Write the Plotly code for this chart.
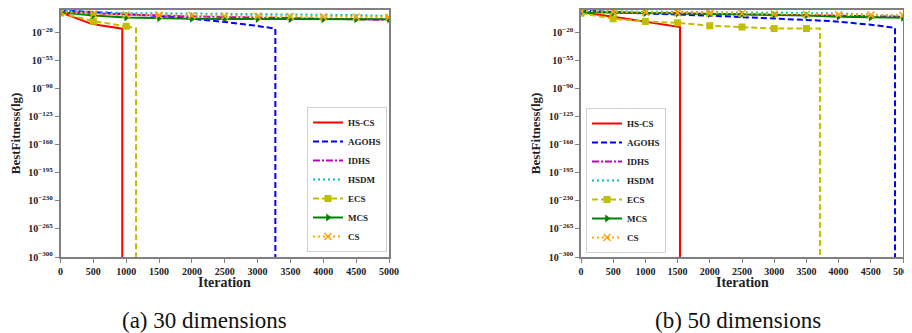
import plotly.graph_objects as go

# ---------------- data (exponents of best fitness, log10) ----------------
# (a) 30 dimensions
a_hscs_it = [0, 450, 600, 940, 940]
a_hscs_lg = [5, -8.75, -11, -15.4, -300]
a_agohs_it = [0, 500, 1000, 1500, 2000, 2500, 3000, 3270, 3270]
a_agohs_lg = [7.5, 5, 3, 0.5, -3, -7, -12, -15.4, -300]
a_idhs_it = [0, 1000, 2000, 3000, 4000, 5000]
a_idhs_lg = [6, 2, 0, -1.5, -3, -4.5]
a_hsdm_it = [0, 1000, 2000, 3000, 4000, 4500, 5000]
a_hsdm_lg = [7, 4, 3.5, 3, 2.5, 1.5, 0.5]
a_ecs_it = [0, 500, 1000]
a_ecs_lg = [4, -6, -12.5]
a_ecs_tail_it = [1000, 1150, 1150]
a_ecs_tail_lg = [-12.5, -15, -300]
a_mcs_it = [0, 500, 1000, 1500, 2000, 2500, 3000, 3500, 4000, 4500, 5000]
a_mcs_lg = [5, 1, -1.5, -2.5, -3, -3.2, -3.4, -3.5, -3.6, -3.7, -3.75]
a_cs_it = [0, 500, 1000, 1500, 2000, 2500, 3000, 3500, 4000, 4500, 5000]
a_cs_lg = [6, 3, 2, 1.5, 1, 0.5, 0, -0.3, -0.5, -0.8, -1]

# (b) 50 dimensions
b_hscs_it = [0, 500, 1537, 1537]
b_hscs_lg = [5.5, 0, -13, -300]
b_agohs_it = [0, 1000, 1950, 3000, 3913, 4500, 4876, 4876]
b_agohs_lg = [7.7, 4, 1.5, -2, -5.6, -10, -13.8, -300]
b_idhs_it = [0, 1000, 2000, 3000, 4000, 5000]
b_idhs_lg = [6, 4.5, 3.5, 2.5, 1, 0]
b_hsdm_it = [0, 1000, 2000, 3000, 4000, 4500, 5000]
b_hsdm_lg = [7, 6, 5.5, 5, 4, 2.5, 1.5]
b_ecs_it = [0, 500, 1000, 1500, 2000, 2500, 3000, 3500]
b_ecs_lg = [4.2, -2.6, -6, -7.6, -11.3, -13, -14.7, -14.7]
b_ecs_tail_it = [3500, 3710, 3710]
b_ecs_tail_lg = [-14.7, -14.7, -300]
b_mcs_it = [0, 500, 1000, 1500, 2000, 2500, 3000, 3500, 4000, 4500, 5000]
b_mcs_lg = [6, 5, 4.5, 4, 3.5, 3, 2.5, 1.5, 0, -1, -1.4]
b_cs_it = [0, 500, 1000, 1500, 2000, 2500, 3000, 3500, 4000, 4500, 5000]
b_cs_lg = [7, 6, 5.5, 5, 4.5, 4, 3.5, 3, 2.5, 2, 1.7]

y_tick_exp = [-20, -55, -90, -125, -160, -195, -230, -265, -300]
x_ticks = [0, 500, 1000, 1500, 2000, 2500, 3000, 3500, 4000, 4500, 5000]
names = ["HS-CS", "AGOHS", "IDHS", "HSDM", "ECS", "MCS", "CS"]
captions = ["(a) 30 dimensions", "(b) 50 dimensions"]

# ---------------- styling ----------------
FONT = "Liberation Serif"
RED, BLUE, MAG, CYAN, YEL, GRN, ORG = "#ff0000", "#0000ff", "#bf00bf", "#00bfbf", "#bfbf00", "#008000", "#ffa500"

# page body has an 8px margin: figure sits at (8, 8) in the window
OFF = 8
W, H = 904, 325


def fx(sx):
    return (sx - OFF) / W


def fy(sy):
    return 1 - (sy - OFF) / H


def p(v):
    return [10.0 ** e for e in v]


fig = go.Figure()


def add_panel(xa, ya, leg, d):
    (hit, hlg, ait, alg, iit, ilg, sit, slg, eit, elg, etit, etlg, mit, mlg, cit, clg) = d
    fig.add_trace(go.Scatter(x=hit, y=p(hlg), mode="lines", name=names[0], legend=leg,
                             line=dict(color=RED, width=2), xaxis=xa, yaxis=ya))
    fig.add_trace(go.Scatter(x=ait, y=p(alg), mode="lines", name=names[1], legend=leg,
                             line=dict(color=BLUE, width=2, dash="6px,3px"), xaxis=xa, yaxis=ya))
    fig.add_trace(go.Scatter(x=iit, y=p(ilg), mode="lines", name=names[2], legend=leg,
                             line=dict(color=MAG, width=2, dash="7px,2px,2px,2px"), xaxis=xa, yaxis=ya))
    fig.add_trace(go.Scatter(x=sit, y=p(slg), mode="lines", name=names[3], legend=leg,
                             line=dict(color=CYAN, width=2, dash="2px,3px"), xaxis=xa, yaxis=ya))
    fig.add_trace(go.Scatter(x=eit, y=p(elg), mode="lines+markers", name=names[4], legend=leg,
                             legendgroup=leg + "ecs",
                             line=dict(color=YEL, width=2, dash="6px,3px"),
                             marker=dict(symbol="square", size=7, color=YEL), xaxis=xa, yaxis=ya))
    fig.add_trace(go.Scatter(x=etit, y=p(etlg), mode="lines", showlegend=False, legend=leg,
                             legendgroup=leg + "ecs",
                             line=dict(color=YEL, width=2, dash="6px,3px"), xaxis=xa, yaxis=ya))
    fig.add_trace(go.Scatter(x=mit, y=p(mlg), mode="lines+markers", name=names[5], legend=leg,
                             line=dict(color=GRN, width=2),
                             marker=dict(symbol="triangle-right", size=7, color=GRN), xaxis=xa, yaxis=ya))
    fig.add_trace(go.Scatter(x=cit, y=p(clg), mode="lines+markers", name=names[6], legend=leg,
                             line=dict(color=ORG, width=2, dash="2px,3px"),
                             marker=dict(symbol="x-thin", size=7, color=ORG,
                                         line=dict(color=ORG, width=1.5)), xaxis=xa, yaxis=ya))


add_panel("x", "y", "legend", (a_hscs_it, a_hscs_lg, a_agohs_it, a_agohs_lg, a_idhs_it, a_idhs_lg,
                              a_hsdm_it, a_hsdm_lg, a_ecs_it, a_ecs_lg, a_ecs_tail_it, a_ecs_tail_lg,
                              a_mcs_it, a_mcs_lg, a_cs_it, a_cs_lg))
add_panel("x2", "y2", "legend2", (b_hscs_it, b_hscs_lg, b_agohs_it, b_agohs_lg, b_idhs_it, b_idhs_lg,
                                  b_hsdm_it, b_hsdm_lg, b_ecs_it, b_ecs_lg, b_ecs_tail_it, b_ecs_tail_lg,
                                  b_mcs_it, b_mcs_lg, b_cs_it, b_cs_lg))

ydom = [fy(257), fy(9.5)]
xdom1 = [fx(60.5), fx(389)]
xdom2 = [fx(581), fx(903)]

tickfont = dict(family=FONT, size=10, color="#222222", weight="bold")
ytext = ["10<sup>−%d</sup>" % (-e) for e in y_tick_exp]
yvals = [10.0 ** e for e in y_tick_exp]

axis_common = dict(showgrid=False, zeroline=False, showline=True, linecolor="#808080", linewidth=1.5,
                   mirror=True, ticks="outside", ticklen=4, tickcolor="#808080", tickwidth=1,
                   tickfont=tickfont, automargin=False, ticklabeloverflow="allow")

legfont = dict(family=FONT, size=9, color="#222222", weight="bold")

fig.update_layout(
    width=W, height=H, margin=dict(l=0, r=0, t=0, b=0),
    paper_bgcolor="white", plot_bgcolor="white",
    xaxis=dict(domain=xdom1, anchor="y", range=[0, 5000], tickvals=x_ticks, **axis_common),
    yaxis=dict(domain=ydom, anchor="x", type="log", range=[-300, 8.5], tickvals=yvals, ticktext=ytext,
               **axis_common),
    xaxis2=dict(domain=xdom2, anchor="y2", range=[0, 5000], tickvals=x_ticks, **axis_common),
    yaxis2=dict(domain=ydom, anchor="x2", type="log", range=[-300, 9], tickvals=yvals, ticktext=ytext,
                **axis_common),
    legend=dict(x=fx(307), y=fy(252), xanchor="left", yanchor="bottom",
                bgcolor="white", bordercolor="#d0d0d0", borderwidth=1,
                font=legfont, itemwidth=30, tracegroupgap=0),
    legend2=dict(x=fx(586), y=fy(253), xanchor="left", yanchor="bottom",
                 bgcolor="white", bordercolor="#d0d0d0", borderwidth=1,
                 font=legfont, itemwidth=30, tracegroupgap=0),
    showlegend=True,
)

ann = []
for cx, ylx in [((xdom1[0] + xdom1[1]) / 2, fx(15)), ((xdom2[0] + xdom2[1]) / 2, fx(535))]:
    ann.append(dict(text="Iteration", x=cx, y=fy(282), xref="paper", yref="paper",
                    xanchor="center", yanchor="middle",
                    showarrow=False, font=dict(family=FONT, size=14, color="#222222", weight="bold")))
    ann.append(dict(text="BestFitness(lg)", x=ylx, y=(ydom[0] + ydom[1]) / 2, xref="paper", yref="paper",
                    xanchor="center", yanchor="middle",
                    textangle=-90, showarrow=False,
                    font=dict(family=FONT, size=13, color="#222222", weight="bold")))
ann.append(dict(text=captions[0], x=fx(204), y=fy(320), xref="paper", yref="paper", showarrow=False,
                xanchor="center", yanchor="middle",
                font=dict(family=FONT, size=23, color="#111111")))
ann.append(dict(text=captions[1], x=fx(738), y=fy(320), xref="paper", yref="paper", showarrow=False,
                xanchor="center", yanchor="middle",
                font=dict(family=FONT, size=23, color="#111111")))
fig.update_layout(annotations=ann)

fig.write_html("out.html")
